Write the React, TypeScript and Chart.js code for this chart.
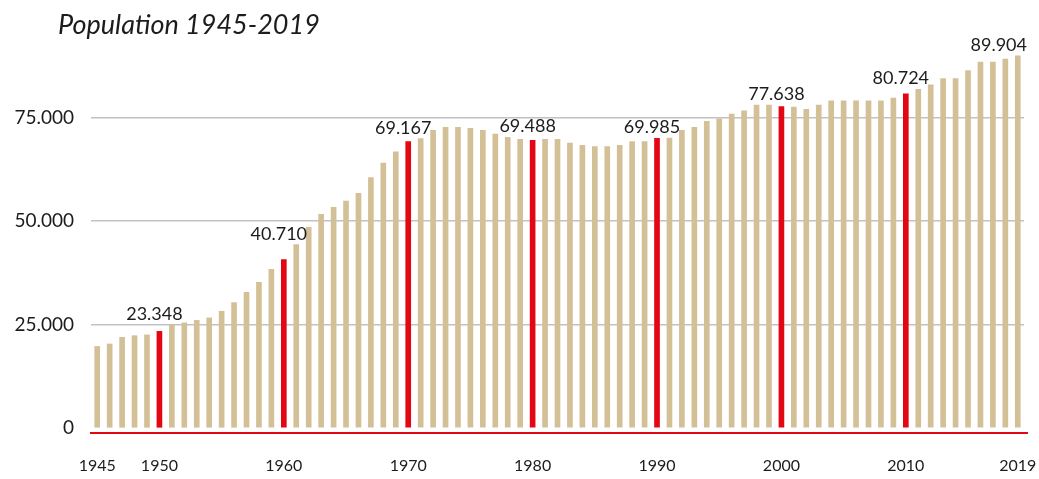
import { useEffect, useRef } from 'react';
import { Chart, registerables } from 'chart.js';

Chart.register(...registerables);

const TITLE = 'Population 1945-2019';

const YEARS = [
  1945, 1946, 1947, 1948, 1949, 1950, 1951, 1952, 1953, 1954,
  1955, 1956, 1957, 1958, 1959, 1960, 1961, 1962, 1963, 1964,
  1965, 1966, 1967, 1968, 1969, 1970, 1971, 1972, 1973, 1974,
  1975, 1976, 1977, 1978, 1979, 1980, 1981, 1982, 1983, 1984,
  1985, 1986, 1987, 1988, 1989, 1990, 1991, 1992, 1993, 1994,
  1995, 1996, 1997, 1998, 1999, 2000, 2001, 2002, 2003, 2004,
  2005, 2006, 2007, 2008, 2009, 2010, 2011, 2012, 2013, 2014,
  2015, 2016, 2017, 2018, 2019,
];

const POPULATION = [
  19700, 20300, 21900, 22300, 22500, 23348, 24900, 25400, 26000, 26600,
  28200, 30300, 32800, 35200, 38300, 40710, 44300, 48500, 51600, 53300,
  54800, 56700, 60500, 64000, 66700, 69167, 69900, 71900, 72600, 72600,
  72400, 71900, 71000, 70200, 69700, 69488, 69700, 69700, 68800, 68300,
  68000, 68000, 68300, 69200, 69200, 69985, 70000, 71900, 72600, 74100,
  74700, 75800, 76600, 78000, 78000, 77638, 77500, 77000, 78000, 79000,
  79000, 79000, 79000, 79000, 79700, 80724, 81800, 82900, 84400, 84400,
  86300, 88400, 88400, 89100, 89904,
];

const HIGHLIGHT_YEARS = [1950, 1960, 1970, 1980, 1990, 2000, 2010];
const LABELED_YEARS = [1950, 1960, 1970, 1980, 1990, 2000, 2010, 2019];
const X_TICK_YEARS = [1945, 1950, 1960, 1970, 1980, 1990, 2000, 2010, 2019];
const Y_TICKS = [0, 25000, 50000, 75000];

const TAN = '#d3c097';
const RED = '#e30613';
const TEXT = '#1c1c1c';
const FONT = 'Lato';

const fmt = (v: number) => String(Math.round(v)).replace(/\B(?=(\d{3})+(?!\d))/g, '.');

const decorPlugin = {
  id: 'decor',
  afterDatasetsDraw(chart: any) {
    const { ctx, chartArea } = chart;
    const meta = chart.getDatasetMeta(0);
    ctx.save();
    // red baseline
    ctx.strokeStyle = RED;
    ctx.lineWidth = 2;
    ctx.beginPath();
    ctx.moveTo(chartArea.left - 1, chartArea.bottom);
    ctx.lineTo(chartArea.right + 4, chartArea.bottom);
    ctx.stroke();
    // value labels
    ctx.font = `18px ${FONT}`;
    ctx.fillStyle = TEXT;
    ctx.textAlign = 'center';
    ctx.textBaseline = 'alphabetic';
    LABELED_YEARS.forEach((yr) => {
      const i = YEARS.indexOf(yr);
      const el = meta.data[i];
      if (!el) return;
      const text = fmt(POPULATION[i]);
      const w = ctx.measureText(text).width;
      const cx = Math.min(el.x - 5, chart.width - 12 - w / 2);
      let top = el.y;
      meta.data.forEach((b: any) => {
        if (b.x > cx - w / 2 && b.x < cx + w / 2 - 2) top = Math.min(top, b.y);
      });
      ctx.fillText(text, cx, top - 5);
    });
    // title
    ctx.font = `italic 27px ${FONT}`;
    ctx.textAlign = 'left';
    ctx.fillText(TITLE, 58, 34);
    ctx.restore();
  },
};

export default function App() {
  const ref = useRef<HTMLCanvasElement | null>(null);

  useEffect(() => {
    if (!ref.current) return;
    const colors = YEARS.map((y) => (HIGHLIGHT_YEARS.includes(y) ? RED : TAN));
    const chart = new Chart(ref.current, {
      type: 'bar',
      data: {
        labels: YEARS.map(String),
        datasets: [
          {
            data: POPULATION,
            backgroundColor: colors,
            borderWidth: 0,
            barThickness: 5,
          },
        ],
      },
      options: {
        animation: false,
        responsive: false,
        maintainAspectRatio: false,
        layout: { padding: { top: 50, right: 15, bottom: 0, left: 0 } },
        plugins: {
          legend: { display: false },
          tooltip: { enabled: false },
          title: { display: false },
        },
        scales: {
          x: {
            grid: { display: false, drawTicks: false },
            border: { display: false },
            ticks: {
              autoSkip: false,
              maxRotation: 0,
              minRotation: 0,
              padding: 23,
              color: TEXT,
              font: { family: FONT, size: 16 },
              callback: (_v: any, idx: number) =>
                X_TICK_YEARS.includes(YEARS[idx]) ? String(YEARS[idx]) : '',
            },
            afterFit: (scale: any) => {
              scale.height = 46;
              scale.paddingLeft = 0;
              scale.paddingRight = 0;
            },
          },
          y: {
            min: -1200,
            max: 91300,
            grid: {
              drawTicks: false,
              lineWidth: 1.5,
              color: (c: any) => (c.tick && c.tick.value === 0 ? 'rgba(0,0,0,0)' : '#c2c2c2'),
            },
            border: { display: false },
            ticks: {
              padding: 17,
              color: TEXT,
              font: { family: FONT, size: 19 },
              callback: (v: any) => fmt(Number(v)),
            },
            afterBuildTicks: (scale: any) => {
              scale.ticks = Y_TICKS.map((v) => ({ value: v }));
            },
            afterFit: (scale: any) => {
              scale.width = 91;
              scale.paddingTop = 0;
              scale.paddingBottom = 0;
            },
          },
        },
      },
      plugins: [decorPlugin],
    });
    return () => chart.destroy();
  }, []);

  return (
    <div style={{ position: 'absolute', left: 0, top: 0, width: 1039, height: 479, background: '#fff' }}>
      <canvas ref={ref} width={1039} height={479} />
    </div>
  );
}
